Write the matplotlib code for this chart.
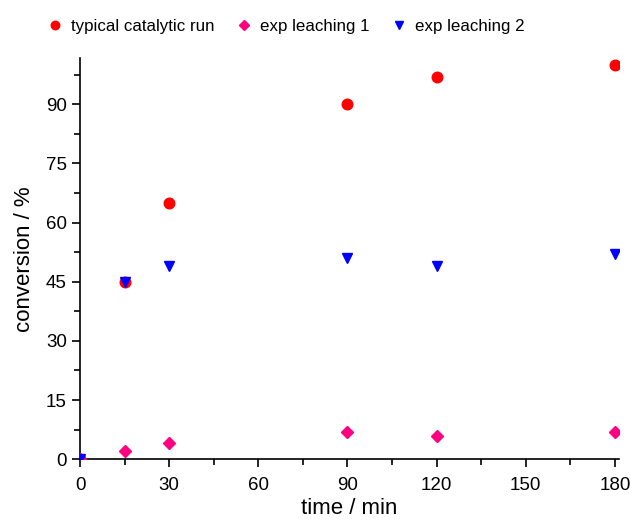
import numpy as np
import matplotlib
matplotlib.use('Agg')
import matplotlib.pyplot as plt
from matplotlib.ticker import MultipleLocator

plt.rcParams['font.family'] = ['Liberation Sans', 'DejaVu Sans']

time_min = [0, 15, 30, 90, 120, 180]
typical_run = [0, 45, 65, 90, 97, 100]
leaching_1 = [0, 2, 4, 7, 6, 7]
leaching_2 = [0, 45, 49, 51, 49, 52]

fig = plt.figure(figsize=(6.3, 5.2), dpi=100)
ax = fig.add_axes([0.127, 0.117, 0.856, 0.771])

ax.plot(time_min, typical_run, 'o', color='#ff0000', ms=7.6, label='typical catalytic run', zorder=3)
ax.plot(time_min, leaching_1, 'D', color='#ff0080', ms=6.5, label='exp leaching 1', zorder=3)
ax.plot(time_min, leaching_2, 'v', color='#0000ff', ms=7.8, label='exp leaching 2', zorder=4)

ax.set_xlim(0, 181.5)
ax.set_ylim(0, 101.7)
ax.xaxis.set_major_locator(MultipleLocator(30))
ax.xaxis.set_minor_locator(MultipleLocator(15))
ax.yaxis.set_major_locator(MultipleLocator(15))
ax.yaxis.set_minor_locator(MultipleLocator(7.5))
ax.tick_params(which='major', direction='out', length=6, width=1.2, labelsize=13.5)
ax.tick_params(axis='x', which='major', pad=7)
ax.tick_params(which='minor', direction='out', length=4, width=1.2)
ax.spines['top'].set_visible(False)
ax.spines['right'].set_visible(False)
ax.spines['left'].set_linewidth(1.2)
ax.spines['bottom'].set_linewidth(1.2)

ax.set_xlabel('time / min', fontsize=16, labelpad=3)
ax.set_ylabel('conversion / %', fontsize=16, labelpad=8)

ax.legend(loc='center', bbox_to_anchor=(0.381, 1.08), ncol=3, frameon=False,
          fontsize=12.2, handlelength=1.0, handletextpad=0.45, columnspacing=1.25,
          markerscale=0.8)

fig.savefig('out.png')
